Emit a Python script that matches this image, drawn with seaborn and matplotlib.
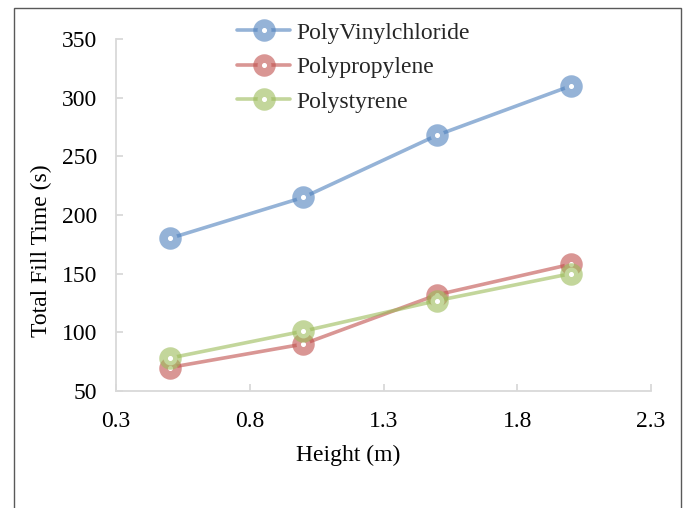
import matplotlib
matplotlib.use("Agg")
import matplotlib.pyplot as plt
from matplotlib.patches import Rectangle
from matplotlib.colors import to_rgba
import seaborn as sns
import pandas as pd

heights = [0.5, 1.0, 1.5, 2.0]
pvc = [180, 215, 268, 310]
pp = [70, 90, 132, 158]
ps = [78, 101, 127, 150]
series_names = ["PolyVinylchloride", "Polypropylene", "Polystyrene"]
colors = ["#4F81BD", "#C0504D", "#9BBB59"]

xticks = [0.3, 0.8, 1.3, 1.8, 2.3]
yticks = [50, 100, 150, 200, 250, 300, 350]

sns.set_style("white")
plt.rcParams["font.family"] = ["Liberation Serif", "DejaVu Serif"]

W, H = 689, 508
fig = plt.figure(figsize=(W / 100, H / 100), dpi=100)
ax = fig.add_axes([116 / W, 1 - 391 / H, (651 - 116) / W, (391 - 39) / H])

df = pd.DataFrame({
    "Height": heights * 3,
    "Time": pvc + pp + ps,
    "Series": [n for n in series_names for _ in heights],
})

handles = []
for name, col in zip(series_names, colors):
    sub = df[df["Series"] == name]
    n_before = len(ax.lines)
    sns.lineplot(data=sub, x="Height", y="Time", ax=ax, marker="o",
                 markersize=10, markeredgewidth=6.2, linewidth=2.6,
                 markerfacecolor="white", legend=False, errorbar=None)
    ln = ax.lines[n_before]
    rgba = to_rgba(col, 0.6)
    ln.set_color(rgba)
    ln.set_markeredgecolor(rgba)
    ln.set_markerfacecolor("white")
    ln.set_label(name)
    handles.append(ln)

ax.set_xlim(0.3, 2.3)
ax.set_ylim(50, 350)
ax.set_xticks(xticks)
ax.set_xticklabels([f"{t:.1f}" for t in xticks])
ax.set_yticks(yticks)
ax.set_yticklabels([str(t) for t in yticks])

for s in ["top", "right"]:
    ax.spines[s].set_visible(False)
for s in ["left", "bottom"]:
    ax.spines[s].set_color("#D9D9D9")
    ax.spines[s].set_linewidth(1.3)

ax.tick_params(axis="both", direction="in", length=5, width=1.3, color="#D9D9D9",
               labelsize=17, labelcolor="black")
ax.tick_params(axis="x", pad=14.4, bottom=True)
ax.tick_params(axis="y", pad=13.7, left=True)

ax.set_xlabel("Height (m)", fontsize=17, color="black")
ax.set_ylabel("Total Fill Time (s)", fontsize=17, color="black")
ax.xaxis.set_label_coords((348 - 116) / 535, (391 - 445) / 352)
ax.yaxis.set_label_coords((52 - 116) / 535, (391 - 251) / 352)

ax.legend(handles=handles, loc="upper left",
          bbox_to_anchor=(237 / W, 1 - 22 / H), bbox_transform=fig.transFigure,
          frameon=False, fontsize=17, handlelength=2.25, handletextpad=0.25,
          labelspacing=0.55, borderpad=0, borderaxespad=0)

fig.patches.append(Rectangle((13.5 / W, -0.1), (681 - 13.5) / W, 1.1 - 8.5 / H,
                             transform=fig.transFigure, fill=False,
                             edgecolor="#595959", linewidth=1.0, zorder=10))

fig.savefig("out.png", dpi=100)
